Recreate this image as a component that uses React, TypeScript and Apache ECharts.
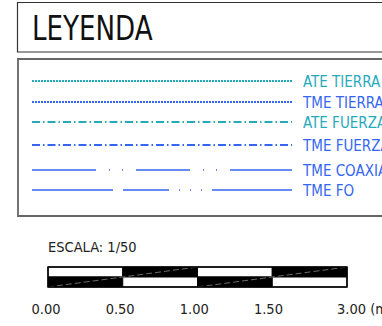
import React, { useEffect, useRef } from "react";
import * as echarts from "echarts";

const TITLE = "LEYENDA";
const legendNames = ["ATE TIERRA", "TME TIERRA", "ATE FUERZA", "TME FUERZA", "TME COAXIAL", "TME FO"];
const legendKinds = ["ATE", "TME", "ATE", "TME", "TME", "TME"];
const scaleTitle = "ESCALA: 1/50";
const scaleLabels = ["0.00", "0.50", "1.00", "1.50", "3.00 (m)"];

const NARROW = "'Liberation Sans Narrow', 'DejaVu Sans Condensed', 'Roboto Condensed', sans-serif";
const COLORS: Record<string, string> = { ATE: "#26aabb", TME: "#3566ef" };
const DASHES: number[][] = [
  [2, 1],
  [2, 1],
  [8, 3, 1.5, 3],
  [8, 3, 1.5, 3],
  [64, 13, 1, 12, 1, 13, 54, 13, 1, 12, 1, 13, 63],
  [81, 10, 46, 10, 1, 10, 1, 10, 1, 10, 80],
];
const ROW_Y = [81, 102, 122, 145, 170, 190];

export default function App() {
  const ref = useRef<HTMLDivElement>(null);
  useEffect(() => {
    if (!ref.current) return;
    const chart = echarts.init(ref.current, null, { renderer: "svg" });
    const g: any[] = [];
    // title box
    g.push({ type: "rect", shape: { x: 17.5, y: 2.5, width: 420, height: 49.5 }, style: { fill: "#fff", stroke: "#333", lineWidth: 1.2 } });
    g.push({ type: "text", x: 32, y: 28, scaleX: 0.88, style: { text: TITLE, font: `33px ${NARROW}`, fill: "#111", textVerticalAlign: "middle" } });
    // legend box
    g.push({ type: "rect", shape: { x: 18, y: 59, width: 420, height: 157 }, style: { fill: "#fff", stroke: "#666", lineWidth: 1.8 } });
    legendNames.forEach((name, i) => {
      const color = COLORS[legendKinds[i]];
      const y = ROW_Y[i];
      g.push({ type: "line", shape: { x1: 32, y1: y, x2: 292, y2: y }, style: { stroke: color, lineWidth: i < 4 ? 2 : 1.5, lineDash: DASHES[i] } });
      g.push({ type: "text", x: 303, y: y + 1, style: { text: name, font: `15px ${NARROW}`, fill: color, textVerticalAlign: "middle" } });
    });
    // scale
    g.push({ type: "text", x: 48, y: 254, style: { text: scaleTitle, font: `14.5px ${NARROW}`, fill: "#222", textVerticalAlign: "bottom" } });
    const x0 = 48, x1 = 347, y0 = 267, y1 = 287, ym = 277;
    const n = 4;
    const w = (x1 - x0) / n;
    for (let i = 0; i < n; i++) {
      g.push({ type: "rect", shape: { x: x0 + i * w, y: y0, width: w, height: ym - y0 }, style: { fill: i % 2 === 0 ? "#fff" : "#000", stroke: "#000", lineWidth: 1 } });
      g.push({ type: "rect", shape: { x: x0 + i * w, y: ym, width: w, height: y1 - ym }, style: { fill: i % 2 === 0 ? "#000" : "#fff", stroke: "#000", lineWidth: 1 } });
    }
    for (let k = 0; k < 2; k++) {
      g.push({ type: "line", shape: { x1: x0 + k * 2 * w, y1: y1, x2: x0 + (k + 1) * 2 * w, y2: y0 }, style: { stroke: "#888", lineWidth: 0.8, lineDash: [6, 3] } });
    }
    g.push({ type: "rect", shape: { x: x0, y: y0, width: x1 - x0, height: y1 - y0 }, style: { fill: "none", stroke: "#000", lineWidth: 1.5 } });
    scaleLabels.forEach((lab, i) => {
      const last = i === scaleLabels.length - 1;
      g.push({
        type: "text",
        x: last ? x0 + i * w - 10 : x0 + i * w - 2 - i * 0.6,
        y: 309,
        style: { text: lab, font: `14.5px ${NARROW}`, fill: "#222", textAlign: last ? "left" : "center", textVerticalAlign: "middle" },
      });
    });
    chart.setOption({ animation: false, graphic: g });
    return () => chart.dispose();
  }, []);
  return <div ref={ref} style={{ position: "fixed", left: 0, top: 0, width: 382, height: 326, background: "#fff" }} />;
}
